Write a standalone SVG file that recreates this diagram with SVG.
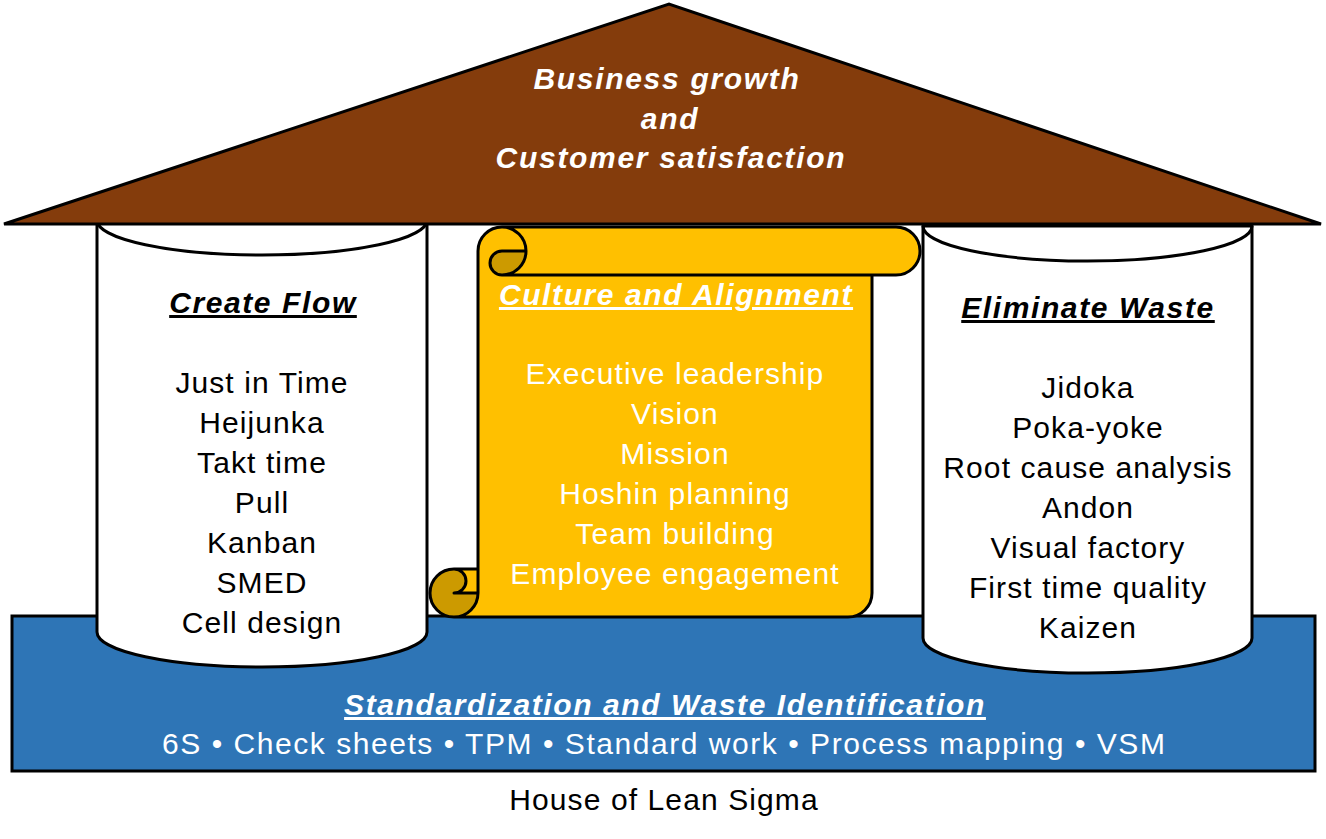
<svg xmlns="http://www.w3.org/2000/svg" width="1326" height="839" viewBox="0 0 1326 839">
<style>
  .ol { stroke: #000; stroke-width: 3; }
  .t { font-family: "Liberation Sans", Arial, sans-serif; font-size: 30px; text-anchor: middle; letter-spacing: 1.1px; }
  .h { font-weight: bold; font-style: italic; text-decoration: underline; letter-spacing: 1.6px; }
  .rf { font-weight: bold; font-style: italic; letter-spacing: 1.7px; }
  .w { fill: #fff; }
  .k { fill: #000; }
</style>
<rect width="1326" height="839" fill="#fff"/>

<g id="base">
  <rect x="12" y="616" width="1303" height="155" fill="#2E75B6" class="ol"/>
  <text class="t h w" x="665" y="715">Standardization and Waste Identification</text>
  <text class="t w" x="664" y="754" textLength="1004" lengthAdjust="spacing">6S • Check sheets • TPM • Standard work • Process mapping • VSM</text>
</g>

<g id="pillar-left">
  <path d="M97,220 L97,632 A165,35 0 0 0 427,632 L427,220 Z" fill="#fff" class="ol"/>
  <path d="M97,220 A165,35 0 0 0 427,220" fill="none" class="ol"/>
  <text class="t h k" x="263" y="313">Create Flow</text>
  <text class="t k" x="262" y="393">Just in Time</text>
  <text class="t k" x="262" y="433">Heijunka</text>
  <text class="t k" x="262" y="473">Takt time</text>
  <text class="t k" x="262" y="513">Pull</text>
  <text class="t k" x="262" y="553">Kanban</text>
  <text class="t k" x="262" y="593">SMED</text>
  <text class="t k" x="262" y="633">Cell design</text>
</g>

<g id="pillar-right">
  <path d="M923,226 L923,638 A164.5,35 0 0 0 1252,638 L1252,226 Z" fill="#fff" class="ol"/>
  <path d="M923,226 A164.5,35 0 0 0 1252,226" fill="none" class="ol"/>
  <text class="t h k" x="1088" y="318">Eliminate Waste</text>
  <text class="t k" x="1088" y="398">Jidoka</text>
  <text class="t k" x="1088" y="438">Poka-yoke</text>
  <text class="t k" x="1088" y="478">Root cause analysis</text>
  <text class="t k" x="1088" y="518">Andon</text>
  <text class="t k" x="1088" y="558">Visual factory</text>
  <text class="t k" x="1088" y="598">First time quality</text>
  <text class="t k" x="1088" y="638">Kaizen</text>
</g>

<g id="scroll">
  <path d="M454,617 A24,24 0 0 0 478,593 L478,251 A24,24 0 0 1 502,227 L896,227 A24,24 0 0 1 896,275 L872,275 L872,593 A24,24 0 0 1 848,617 Z" fill="#FFC000"/>
  <rect x="454" y="569" width="24" height="24" fill="#FFC000"/>
  <path d="M526,251 A24,24 0 0 1 502,275 A12,12 0 0 1 502,251 Z" fill="#CC9A00"/>
  <path d="M478,593 A24,24 0 1 1 454,569 A12,12 0 0 1 454,593 Z" fill="#CC9A00"/>
  <path d="M478,569 L478,251 A24,24 0 0 1 502,227 L896,227 A24,24 0 0 1 896,275 L872,275 L872,593 A24,24 0 0 1 848,617 L454,617 A24,24 0 0 1 454,569 Z M502,227 A24,24 0 0 1 502,275 A12,12 0 0 1 502,251 L526,251 M872,275 L502,275 M454,569 A12,12 0 0 1 454,593 L478,593 M454,617 A24,24 0 0 0 478,593 L478,569" fill="none" class="ol" stroke-linejoin="round"/>
  <text class="t h w" x="676" y="305">Culture and Alignment</text>
  <text class="t w" x="675" y="384">Executive leadership</text>
  <text class="t w" x="675" y="424">Vision</text>
  <text class="t w" x="675" y="464">Mission</text>
  <text class="t w" x="675" y="504">Hoshin planning</text>
  <text class="t w" x="675" y="544">Team building</text>
  <text class="t w" x="675" y="584">Employee engagement</text>
</g>

<g id="roof">
  <polygon points="4,224 669,4 1321,224" fill="#843C0C" class="ol"/>
  <text class="t rf w" x="667" y="89">Business growth</text>
  <text class="t rf w" x="670" y="129">and</text>
  <text class="t rf w" x="671" y="168">Customer satisfaction</text>
</g>

<g id="caption">
  <text class="t k" x="664" y="810">House of Lean Sigma</text>
</g>

<g id="connectors"/>
</svg>
